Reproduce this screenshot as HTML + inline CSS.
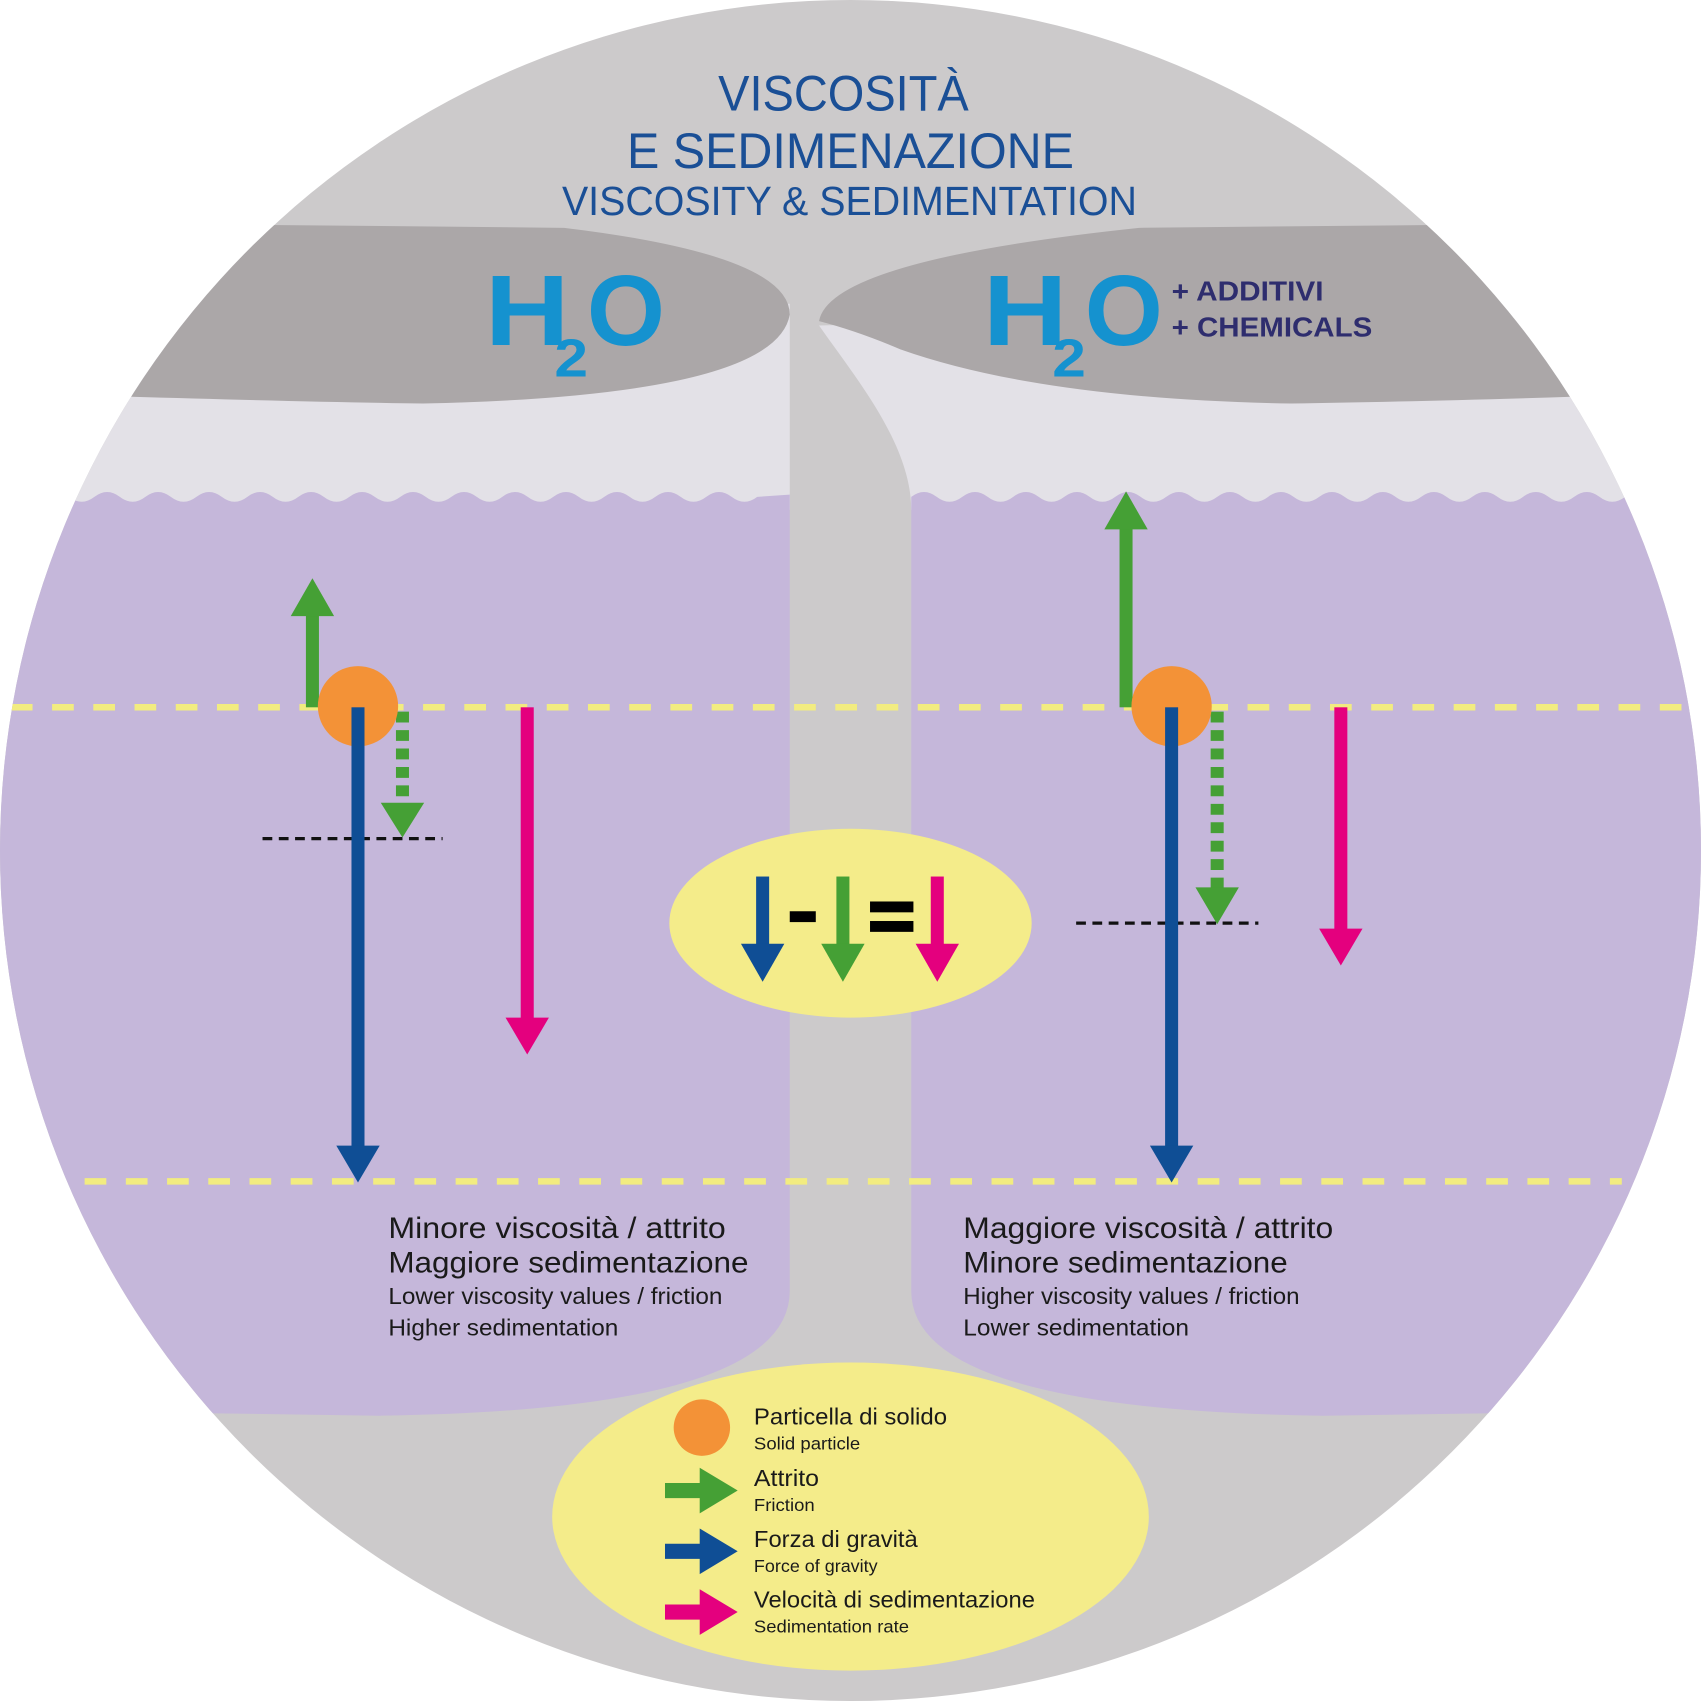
<!DOCTYPE html>
<html><head><meta charset="utf-8"><style>html,body{margin:0;padding:0;background:#fff}svg{display:block}</style></head>
<body>
<svg width="1701" height="1701" viewBox="0 0 1568 1568" xmlns="http://www.w3.org/2000/svg" font-family="Liberation Sans, sans-serif">
<defs><clipPath id="c"><circle cx="784" cy="784" r="784"/></clipPath></defs>
<g clip-path="url(#c)">
<rect width="1568" height="1568" fill="#cccacb"/>
<rect x="0" y="280" width="728" height="190" fill="#e3e1e7"/>
<path d="M755 300 C790 350 840 410 840 470 L1568 470 L1568 280 Z" fill="#e3e1e7"/>
<path d="M0 205 L520 210 Q728 235 728 290 Q715 365 390 372 Q250 370 0 362 Z" fill="#aba7a8"/>
<path d="M1568 205 L1050 210 Q765 240 755 296 Q790 305 830 322 Q960 368 1190 372 Q1330 370 1568 362 Z" fill="#aba7a8"/>
<path d="M0 458 L40 458 q11.75 -9 23.5 0 t23.5 0 t23.5 0 t23.5 0 t23.5 0 t23.5 0 t23.5 0 t23.5 0 t23.5 0 t23.5 0 t23.5 0 t23.5 0 t23.5 0 t23.5 0 t23.5 0 t23.5 0 t23.5 0 t23.5 0 t23.5 0 t23.5 0 t23.5 0 t23.5 0 t23.5 0 t23.5 0 t23.5 0 t23.5 0 t23.5 0 t23.5 0 L728 456 L728 1190 Q728 1300 350 1305 L0 1300 Z" fill="#c5b7da"/>
<path d="M840 458 q11.75 -9 23.5 0 t23.5 0 t23.5 0 t23.5 0 t23.5 0 t23.5 0 t23.5 0 t23.5 0 t23.5 0 t23.5 0 t23.5 0 t23.5 0 t23.5 0 t23.5 0 t23.5 0 t23.5 0 t23.5 0 t23.5 0 t23.5 0 t23.5 0 t23.5 0 t23.5 0 t23.5 0 t23.5 0 t23.5 0 t23.5 0 t23.5 0 t23.5 0 t23.5 0 t23.5 0 L1568 456 L1568 1300 L1220 1305 Q840 1300 840 1190 Z" fill="#c5b7da"/>
<line x1="10" y1="652" x2="1560" y2="652" stroke="#f2ec80" stroke-width="6" stroke-dasharray="20 18"/>
<line x1="78" y1="1089" x2="1495" y2="1089" stroke="#f2ec80" stroke-width="6" stroke-dasharray="20 18"/>
<line x1="242" y1="773" x2="408" y2="773" stroke="#111" stroke-width="3" stroke-dasharray="9 6"/>
<rect x="282" y="566" width="12" height="86" fill="#45a035"/><polygon points="268,568 308,568 288,533" fill="#45a035"/>
<line x1="371" y1="656" x2="371" y2="742" stroke="#45a035" stroke-width="12" stroke-dasharray="10 7"/><polygon points="351,740 391,740 371,772" fill="#45a035"/>
<rect x="480" y="652" width="12" height="288" fill="#e4007e"/><polygon points="466,938 506,938 486,972" fill="#e4007e"/>
<circle cx="330" cy="651" r="37" fill="#f39237"/>
<rect x="324" y="652" width="12" height="410" fill="#0f4e95"/><polygon points="310,1056 350,1056 330,1090" fill="#0f4e95"/>
<line x1="992" y1="851" x2="1160" y2="851" stroke="#111" stroke-width="3" stroke-dasharray="9 6"/>
<rect x="1032" y="486" width="12" height="166" fill="#45a035"/><polygon points="1018,488 1058,488 1038,453" fill="#45a035"/>
<line x1="1122" y1="656" x2="1122" y2="820" stroke="#45a035" stroke-width="12" stroke-dasharray="10 7"/><polygon points="1102,818 1142,818 1122,852" fill="#45a035"/>
<rect x="1230" y="652" width="12" height="206" fill="#e4007e"/><polygon points="1216,856 1256,856 1236,890" fill="#e4007e"/>
<circle cx="1080" cy="651" r="37" fill="#f39237"/>
<rect x="1074" y="652" width="12" height="410" fill="#0f4e95"/><polygon points="1060,1056 1100,1056 1080,1090" fill="#0f4e95"/>
<ellipse cx="784" cy="851" rx="167" ry="87" fill="#f4ec8a"/>
<rect x="697" y="808" width="12" height="64" fill="#0f4e95"/><polygon points="683,870 723,870 703,905" fill="#0f4e95"/>
<rect x="728" y="840" width="24" height="10" fill="#000"/>
<rect x="771" y="808" width="12" height="64" fill="#45a035"/><polygon points="757,870 797,870 777,905" fill="#45a035"/>
<rect x="802" y="831" width="40" height="10" fill="#000"/><rect x="802" y="849" width="40" height="10" fill="#000"/>
<rect x="858" y="808" width="12" height="64" fill="#e4007e"/><polygon points="844,870 884,870 864,905" fill="#e4007e"/>
<ellipse cx="784" cy="1398" rx="275" ry="142" fill="#f4ec8a"/>
<circle cx="647" cy="1316" r="26" fill="#f39237"/>
<polygon points="613,1367 645,1367 645,1353 680,1374 645,1395 645,1381 613,1381" fill="#45a035"/>
<polygon points="613,1423 645,1423 645,1409 680,1430 645,1451 645,1437 613,1437" fill="#0f4e95"/>
<polygon points="613,1479 645,1479 645,1465 680,1486 645,1507 645,1493 613,1493" fill="#e4007e"/>
<g fill="#1a1a1a">
<text x="695" y="1313" font-size="21" textLength="178" lengthAdjust="spacingAndGlyphs">Particella di solido</text>
<text x="695" y="1336" font-size="16" textLength="98" lengthAdjust="spacingAndGlyphs">Solid particle</text>
<text x="695" y="1370" font-size="21" textLength="60" lengthAdjust="spacingAndGlyphs">Attrito</text>
<text x="695" y="1393" font-size="16" textLength="56" lengthAdjust="spacingAndGlyphs">Friction</text>
<text x="695" y="1426" font-size="21" textLength="151" lengthAdjust="spacingAndGlyphs">Forza di gravità</text>
<text x="695" y="1449" font-size="16" textLength="114" lengthAdjust="spacingAndGlyphs">Force of gravity</text>
<text x="695" y="1482" font-size="21" textLength="259" lengthAdjust="spacingAndGlyphs">Velocità di sedimentazione</text>
<text x="695" y="1505" font-size="16" textLength="143" lengthAdjust="spacingAndGlyphs">Sedimentation rate</text>
<text x="358" y="1141" font-size="27" textLength="311" lengthAdjust="spacingAndGlyphs">Minore viscosità / attrito</text>
<text x="358" y="1173" font-size="27" textLength="332" lengthAdjust="spacingAndGlyphs">Maggiore sedimentazione</text>
<text x="358" y="1202" font-size="21" textLength="308" lengthAdjust="spacingAndGlyphs">Lower viscosity values / friction</text>
<text x="358" y="1231" font-size="21" textLength="212" lengthAdjust="spacingAndGlyphs">Higher sedimentation</text>
<text x="888" y="1141" font-size="27" textLength="341" lengthAdjust="spacingAndGlyphs">Maggiore viscosità / attrito</text>
<text x="888" y="1173" font-size="27" textLength="299" lengthAdjust="spacingAndGlyphs">Minore sedimentazione</text>
<text x="888" y="1202" font-size="21" textLength="310" lengthAdjust="spacingAndGlyphs">Higher viscosity values / friction</text>
<text x="888" y="1231" font-size="21" textLength="208" lengthAdjust="spacingAndGlyphs">Lower sedimentation</text>
</g>
<g fill="#1a4f96">
<text x="662" y="102" font-size="46" textLength="231" lengthAdjust="spacingAndGlyphs">VISCOSITÀ</text>
<text x="578" y="155" font-size="46" textLength="412" lengthAdjust="spacingAndGlyphs">E SEDIMENAZIONE</text>
<text x="518" y="198" font-size="38" textLength="530" lengthAdjust="spacingAndGlyphs">VISCOSITY &amp; SEDIMENTATION</text>
</g>
<g fill="#1592cf" font-weight="bold">
<text x="447" y="318" font-size="92" textLength="78" lengthAdjust="spacingAndGlyphs">H</text>
<text x="511" y="347" font-size="50" textLength="31" lengthAdjust="spacingAndGlyphs">2</text>
<text x="541" y="318" font-size="92" textLength="72" lengthAdjust="spacingAndGlyphs">O</text>
<text x="906" y="318" font-size="92" textLength="78" lengthAdjust="spacingAndGlyphs">H</text>
<text x="970" y="347" font-size="50" textLength="31" lengthAdjust="spacingAndGlyphs">2</text>
<text x="1000" y="318" font-size="92" textLength="72" lengthAdjust="spacingAndGlyphs">O</text>
</g>
<g fill="#2e2d6e" font-weight="bold" font-size="26">
<text x="1080" y="277" textLength="140" lengthAdjust="spacingAndGlyphs">+ ADDITIVI</text>
<text x="1080" y="310" textLength="185" lengthAdjust="spacingAndGlyphs">+ CHEMICALS</text>
</g>
</g>
</svg>
</body></html>
